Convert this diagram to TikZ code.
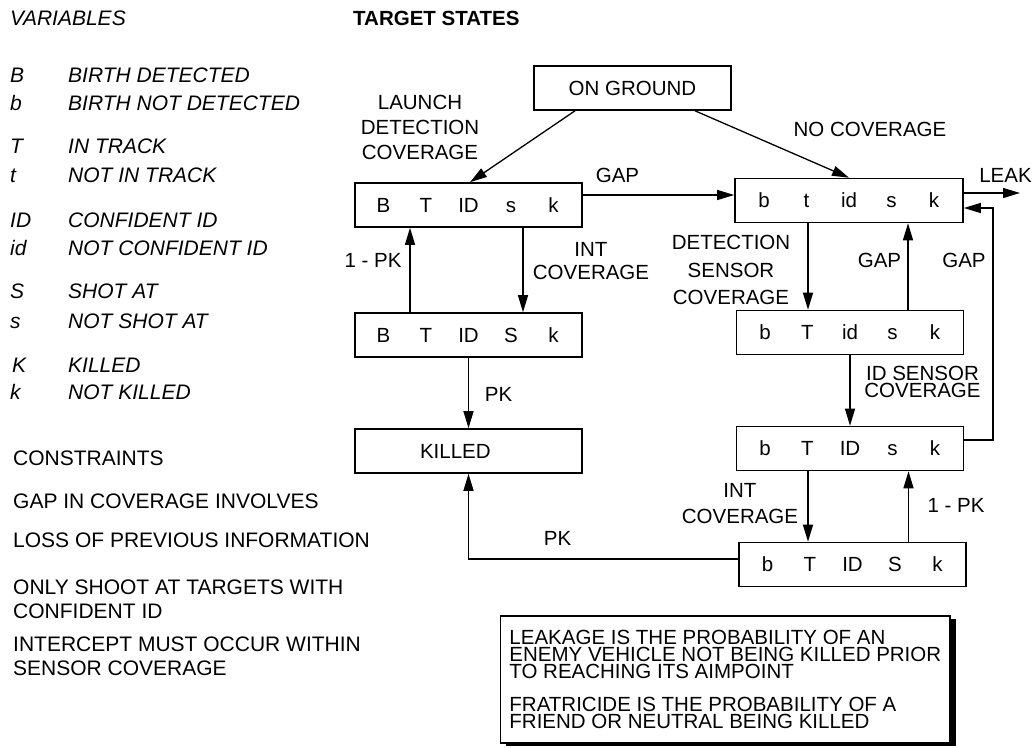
\documentclass[tikz,border=0pt]{standalone}
\usepackage{fontspec}
\setmainfont{Liberation Sans}
\usetikzlibrary{positioning, arrows.meta, calc, shadows}

% five state variables, evenly spaced in a box
\newcommand{\statevars}[5]{\makebox[42.5pt]{#1}\makebox[42.5pt]{#2}\makebox[42.5pt]{#3}\makebox[42.5pt]{#4}\makebox[42.5pt]{#5}}

\begin{document}
\begin{tikzpicture}[
    x=1pt, y=-1pt,
    font=\fontsize{20.5pt}{24pt}\selectfont,
    statebox/.style={rectangle, draw, line width=1.6pt, minimum width=227pt, minimum height=44pt, inner sep=0pt},
    lbl/.style={align=center, inner sep=0pt},
    var/.style={anchor=base west, inner sep=0pt, font=\fontsize{21pt}{24pt}\selectfont\itshape},
    cons/.style={anchor=base west, inner sep=0pt, font=\fontsize{21pt}{24pt}\selectfont},
    arrow/.style={-{Triangle[length=17pt, width=10pt]}, line width=1.3pt},
]
\useasboundingbox (0,0) rectangle (1036,747);

%% NODES
    % titles
    \node[var] (var_title) at (10,25) {VARIABLES};
    \node[cons, font=\fontsize{20.5pt}{24pt}\selectfont\bfseries] (states_title) at (353,25) {TARGET STATES};

    % variables
    \node[var] (v_B) at (10,82) {B};
    \node[var] (v_B_txt) at (68,82) {BIRTH DETECTED};
    \node[var] (v_b) at (10,110) {b};
    \node[var] (v_b_txt) at (68,110) {BIRTH NOT DETECTED};
    \node[var] (v_T) at (10,153) {T};
    \node[var] (v_T_txt) at (68,153) {IN TRACK};
    \node[var] (v_t) at (10,182) {t};
    \node[var] (v_t_txt) at (68,182) {NOT IN TRACK};
    \node[var] (v_ID) at (10,227) {ID};
    \node[var] (v_ID_txt) at (68,227) {CONFIDENT ID};
    \node[var] (v_id) at (10,255) {id};
    \node[var] (v_id_txt) at (68,255) {NOT CONFIDENT ID};
    \node[var] (v_S) at (10,298) {S};
    \node[var] (v_S_txt) at (68,298) {SHOT AT};
    \node[var] (v_s) at (10,328) {s};
    \node[var] (v_s_txt) at (68,328) {NOT SHOT AT};
    \node[var] (v_K) at (12,372) {K};
    \node[var] (v_K_txt) at (68,372) {KILLED};
    \node[var] (v_k) at (10,399) {k};
    \node[var] (v_k_txt) at (68,399) {NOT KILLED};

    % constraints
    \node[cons] (c_title) at (13,465) {CONSTRAINTS};
    \node[cons] (c_gap) at (13,508) {GAP IN COVERAGE INVOLVES};
    \node[cons] (c_loss) at (13,547) {LOSS OF PREVIOUS INFORMATION};
    \node[cons, anchor=north west, align=left] (c_shoot) at (13,580) {ONLY SHOOT AT TARGETS WITH\\CONFIDENT ID};
    \node[cons, anchor=north west, align=left] (c_int) at (13,637) {INTERCEPT MUST OCCUR WITHIN\\SENSOR COVERAGE};

    % target states
    \node[statebox, minimum width=197pt] (ground) at (632.5,88) {ON GROUND};
    \node[statebox] (launch_track) at (468.5,205) {\statevars{B}{T}{ID}{s}{k}};
    \node[statebox] (launch_shot) at (468.5,335) {\statevars{B}{T}{ID}{S}{k}};
    \node[statebox, text width=97pt, inner xsep=23pt, align=left] (killed) at (468.5,451) {KILLED};
    \node[statebox, minimum width=228pt] (lost) at (849,200.5) {\statevars{b}{t}{id}{s}{k}};
    \node[statebox] (sensor_track) at (850,332.5) {\statevars{b}{T}{id}{s}{k}};
    \node[statebox] (sensor_id) at (850,448.5) {\statevars{b}{T}{ID}{s}{k}};
    \node[statebox] (sensor_shot) at (852.5,564.5) {\statevars{b}{T}{ID}{S}{k}};
    \coordinate (leak_end) at (1020,193);
    \coordinate (gap_turn) at (993,208);

    % edge labels
    \node[lbl] (l_launch) at (420,127) {LAUNCH\\[1pt]DETECTION\\[1pt]COVERAGE};
    \node[lbl] (l_nocov) at (870,129.5) {NO COVERAGE};
    \node[lbl] (l_gap_top) at (617.5,175) {GAP};
    \node[lbl] (l_leak) at (1005.5,175.5) {LEAK};
    \node[lbl] (l_int_top) at (591,261) {INT\\[-1.5pt]COVERAGE};
    \node[lbl] (l_pk_miss_top) at (373,260) {1 - PK};
    \node[lbl] (l_detect) at (731,270) {DETECTION\\[3.5pt]SENSOR\\[3.5pt]COVERAGE};
    \node[lbl] (l_gap_mid) at (879.5,260.5) {GAP};
    \node[lbl] (l_gap_right) at (964,260.5) {GAP};
    \node[lbl] (l_idsensor) at (922.5,382) {ID SENSOR\\[-7pt]COVERAGE};
    \node[lbl] (l_pk_top) at (498.5,394.5) {PK};
    \node[lbl] (l_int_low) at (740,503.5) {INT\\[2pt]COVERAGE};
    \node[lbl] (l_pk_miss_low) at (956,505.5) {1 - PK};
    \node[lbl] (l_pk_low) at (557.5,538.5) {PK};

    % definitions box
    \node[draw, line width=1.6pt, fill=white, drop shadow={shadow xshift=6pt, shadow yshift=-3pt, fill=black, opacity=1},
          anchor=north east, align=left, inner xsep=9pt, minimum height=127pt] (note_box) at (951,615)
          {LEAKAGE IS THE PROBABILITY OF AN\\[-7pt]ENEMY VEHICLE NOT BEING KILLED PRIOR\\[-7pt]TO REACHING ITS AIMPOINT\\[9pt]FRATRICIDE IS THE PROBABILITY OF A\\[-7pt]FRIEND OR NEUTRAL BEING KILLED};

%% CONNECTIONS
    % on ground -> detected / not covered
    \draw[arrow] ([xshift=-57.5pt]ground.south) -- ([xshift=1.5pt]launch_track.north);
    \draw[arrow] ([xshift=62.5pt]ground.south) -- (lost.north);

    % gap and leak
    \draw[arrow] ([yshift=10pt]launch_track.east) -- ([yshift=10pt]launch_track.east -| lost.west);
    \draw[arrow] (lost.east |- leak_end) -- (leak_end);

    % launch branch
    \draw[arrow] ([xshift=54.5pt]launch_track.south) -- ([xshift=54.5pt]launch_shot.north);
    \draw[arrow] ([xshift=-58.5pt]launch_shot.north) -- ([xshift=-58.5pt]launch_track.south);
    \draw[arrow] (launch_shot) -- (killed);

    % sensor branch
    \draw[arrow] ([xshift=-41pt]lost.south) -- ([xshift=-41pt]lost.south |- sensor_track.north);
    \draw[arrow] ([xshift=58pt]sensor_track.north) -- ([xshift=58pt]sensor_track.north |- lost.south);
    \draw[arrow] (sensor_track) -- (sensor_id);
    \draw[arrow] ([yshift=8.5pt]sensor_id.east) -| (gap_turn) -- (gap_turn -| lost.east);
    \draw[arrow] ([xshift=-42pt]sensor_id.south) -- ([xshift=-42pt]sensor_id.south |- sensor_shot.north);
    \draw[arrow] ([xshift=56pt]sensor_shot.north) -- ([xshift=56pt]sensor_shot.north |- sensor_id.south);

    % shot -> killed
    \draw[arrow] ([yshift=5.5pt]sensor_shot.west) -| (killed.south);

\end{tikzpicture}
\end{document}
